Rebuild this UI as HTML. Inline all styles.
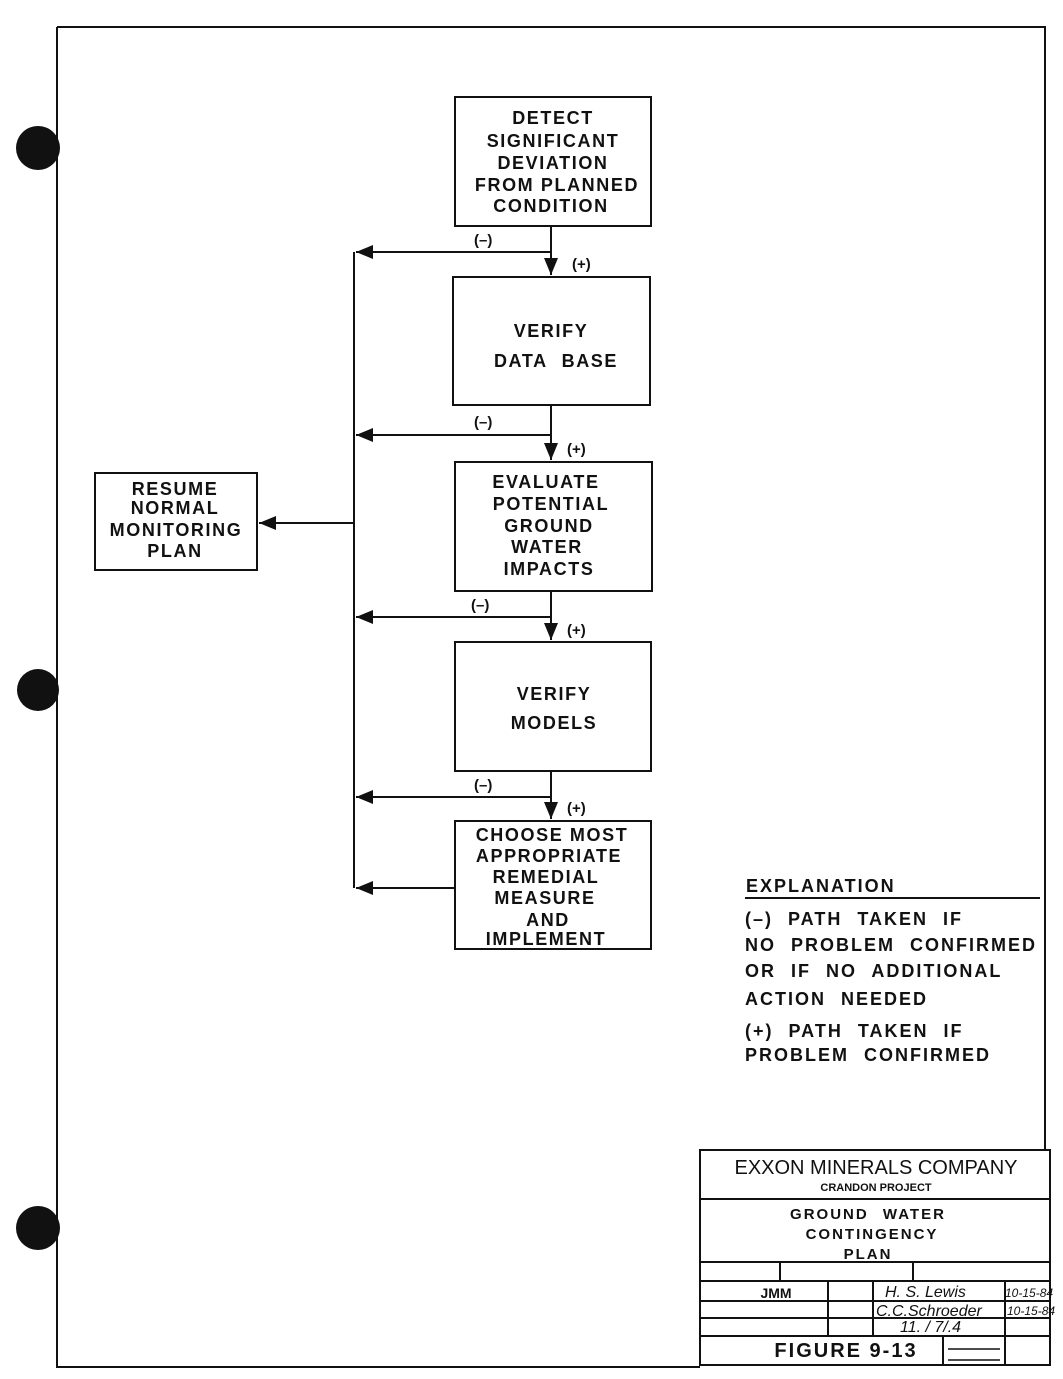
<!DOCTYPE html>
<html><head><style>
body{margin:0;background:#fff}
svg{display:block}
text{font-family:"Liberation Sans",Arial,sans-serif;font-weight:bold;fill:#111}
</style></head><body>
<svg width="1063" height="1379" viewBox="0 0 1063 1379" xmlns="http://www.w3.org/2000/svg">
<defs>
<marker id="b" markerWidth="18" markerHeight="14" refX="17" refY="7" orient="auto" markerUnits="userSpaceOnUse"><path d="M0,0 L17,7 L0,14 z" fill="#111"/></marker></defs>
<g stroke="#111" stroke-width="2" fill="none">
<path d="M57,27 H1045 V1150 M57,27 V1367 H700"/>
<rect x="700" y="1150" width="350" height="215"/>
<path d="M700,1199 H1050 M700,1262 H1050 M700,1281 H1050 M700,1301 H1050 M700,1318 H1050 M700,1336 H1050 M780,1262 V1281 M913,1262 V1281 M828,1281 V1336 M873,1281 V1336 M1005,1281 V1365 M943,1336 V1365"/>
<rect x="455" y="97" width="196" height="129"/>
<rect x="453" y="277" width="197" height="128"/>
<rect x="455" y="462" width="197" height="129"/>
<rect x="455" y="642" width="196" height="129"/>
<rect x="455" y="821" width="196" height="128"/>
<rect x="95" y="473" width="162" height="97"/>
<path d="M354,252 V888"/>
<path d="M551,226 V252 M551,405 V435 M551,591 V617 M551,771 V797" />
<path d="M551,252 V275" marker-end="url(#b)"/>
<path d="M551,435 V460" marker-end="url(#b)"/>
<path d="M551,617 V640" marker-end="url(#b)"/>
<path d="M551,797 V819" marker-end="url(#b)"/>
<path d="M551,252 H356" marker-end="url(#b)"/>
<path d="M551,435 H356" marker-end="url(#b)"/>
<path d="M551,617 H356" marker-end="url(#b)"/>
<path d="M551,797 H356" marker-end="url(#b)"/>
<path d="M455,888 H356" marker-end="url(#b)"/>
<path d="M354,523 H259" marker-end="url(#b)"/>
<path d="M745,898 H1040"/>
<path d="M948,1349 H1000 M948,1360 H1000" stroke-width="1.5"/>
</g>
<g fill="#111"><circle cx="38" cy="148" r="22"/><circle cx="38" cy="690" r="21"/><circle cx="38" cy="1228" r="22"/></g>
<g font-size="18" text-anchor="middle" letter-spacing="1.6">
<text x="553" y="124">DETECT</text><text x="553" y="147">SIGNIFICANT</text><text x="553" y="169">DEVIATION</text><text x="557" y="191">FROM PLANNED</text><text x="551" y="212">CONDITION</text>
<text x="551" y="337">VERIFY</text><text x="556" y="367" word-spacing="8">DATA BASE</text>
<text x="546" y="488">EVALUATE</text><text x="551" y="510">POTENTIAL</text><text x="549" y="532">GROUND</text><text x="547" y="553">WATER</text><text x="549" y="575">IMPACTS</text>
<text x="554" y="700">VERIFY</text><text x="554" y="729">MODELS</text>
<text x="552" y="841">CHOOSE MOST</text><text x="549" y="862">APPROPRIATE</text><text x="546" y="883">REMEDIAL</text><text x="545" y="904">MEASURE</text><text x="548" y="926">AND</text><text x="546" y="945">IMPLEMENT</text>
<text x="175" y="495">RESUME</text><text x="175" y="514">NORMAL</text><text x="176" y="536">MONITORING</text><text x="175" y="557">PLAN</text>
</g>
<g font-size="15">
<text x="474" y="245">(–)</text><text x="572" y="269">(+)</text>
<text x="474" y="427">(–)</text><text x="567" y="454">(+)</text>
<text x="471" y="610">(–)</text><text x="567" y="635">(+)</text>
<text x="474" y="790">(–)</text><text x="567" y="813">(+)</text>
</g>
<g font-size="18" letter-spacing="2">
<text x="746" y="892">EXPLANATION</text>
<text x="745" y="925" word-spacing="8">(–) PATH TAKEN IF</text>
<text x="745" y="951" word-spacing="8">NO PROBLEM CONFIRMED</text>
<text x="745" y="977" word-spacing="8">OR IF NO ADDITIONAL</text>
<text x="745" y="1005" word-spacing="8">ACTION NEEDED</text>
<text x="745" y="1037" word-spacing="8">(+) PATH TAKEN IF</text>
<text x="745" y="1061" word-spacing="8">PROBLEM CONFIRMED</text>
</g>
<text x="876" y="1174" font-size="20" text-anchor="middle" style="font-weight:normal">EXXON MINERALS COMPANY</text>
<text x="876" y="1191" font-size="11" text-anchor="middle">CRANDON PROJECT</text>
<g font-size="15" text-anchor="middle" letter-spacing="2">
<text x="868" y="1219" word-spacing="8">GROUND WATER</text><text x="872" y="1239">CONTINGENCY</text><text x="868" y="1259">PLAN</text>
</g>
<text x="776" y="1298" font-size="14" text-anchor="middle">JMM</text>
<text x="846" y="1357" font-size="20" text-anchor="middle" letter-spacing="2">FIGURE 9-13</text>
<g font-family="Liberation Serif" font-style="italic" font-size="16">
<text x="885" y="1297" style="font-weight:normal">H. S. Lewis</text><text x="876" y="1316" style="font-weight:normal">C.C.Schroeder</text><text x="900" y="1332" style="font-weight:normal">11. / 7/.4</text>
<text x="1005" y="1297" font-size="12" style="font-weight:normal">10-15-84</text><text x="1007" y="1315" font-size="12" style="font-weight:normal">10-15-84</text>
</g>
</svg>
</body></html>
